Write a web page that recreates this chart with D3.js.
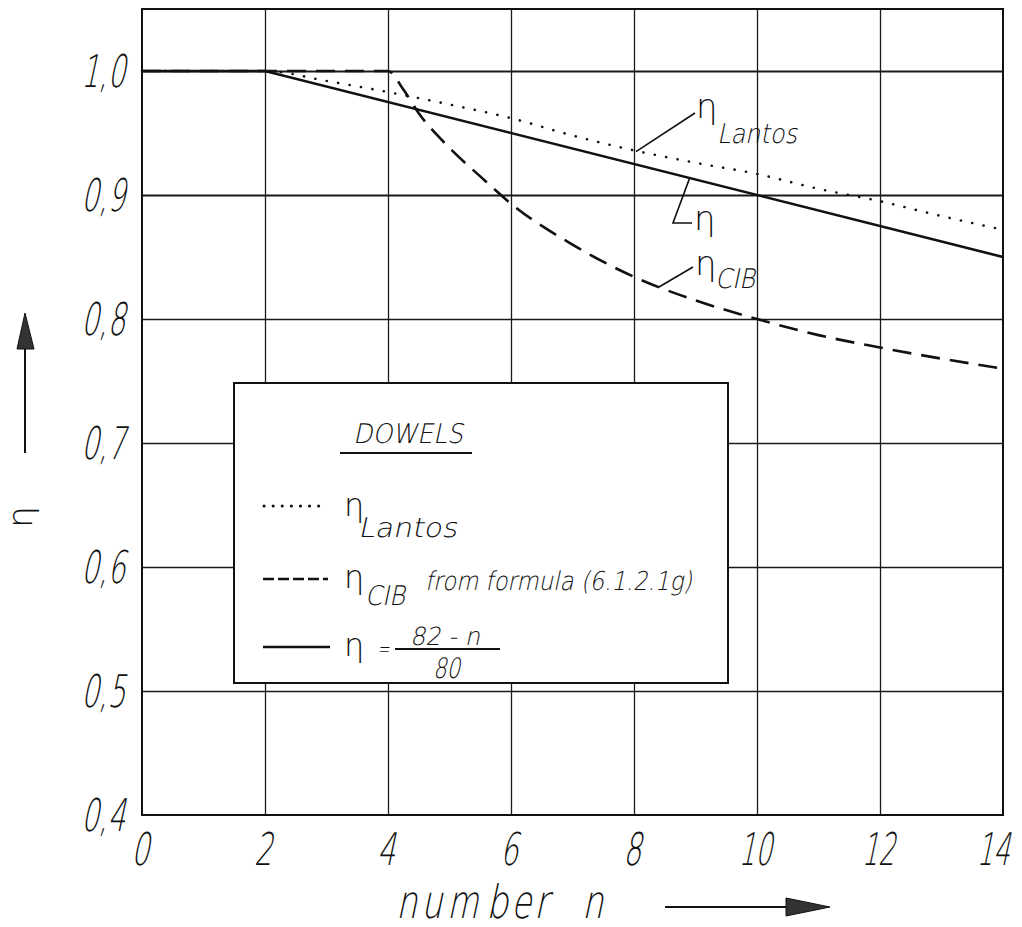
<!DOCTYPE html>
<html>
<head>
<meta charset="utf-8">
<script src="https://cdn.jsdelivr.net/npm/d3@7"></script>
<style>
  html, body { margin: 0; padding: 0; background: #fff; }
  svg { display: block; }
  .lbl { font-family: 'DejaVu Sans', sans-serif; font-weight: 200; fill: #111; }
  .eta { font-family: 'DejaVu Sans', sans-serif; font-weight: 200; fill: #111; }
</style>
</head>
<body>
<svg id="chart" width="1022" height="927"></svg>
<script>
// Efficiency factor η of dowel joints versus the number n of dowels in a row
const xTicks = [0, 2, 4, 6, 8, 10, 12, 14];
const yTicks = [0.4, 0.5, 0.6, 0.7, 0.8, 0.9, 1.0];
const yTickLabels = ["0,4", "0,5", "0,6", "0,7", "0,8", "0,9", "1,0"];

// η_Lantos (dotted)
const lantosN   = [0, 2, 3, 4, 5, 6, 7, 8, 9, 10, 11, 12, 13, 14];
const lantosEta = [1.0, 1.0, 0.992, 0.983, 0.973, 0.962, 0.948, 0.936, 0.926, 0.917, 0.905, 0.895, 0.883, 0.872];

// η_CIB from formula (6.1.2.1g) (dashed)
const cibN   = [0, 2, 4, 4.25, 4.5, 5, 5.5, 6, 7, 8, 9, 10, 11, 12, 13, 14];
const cibEta = [1.0, 1.0, 1.0, 0.985, 0.966, 0.938, 0.915, 0.893, 0.86, 0.834, 0.815, 0.80, 0.787, 0.777, 0.768, 0.76];

// η = (82 - n) / 80 (solid), limited to 1.0
const simpleN   = [0, 2, 14];
const simpleEta = [1.0, 1.0, 0.85];

const svg = d3.select("#chart");
const x = d3.scaleLinear().domain([0, 14]).range([142, 1003]);
const y = d3.scaleLinear().domain([0.4, 1.05]).range([815, 9]);
const plotTop = y(1.05), plotBottom = y(0.4), plotLeft = x(0), plotRight = x(14);

// slanted, narrow stencil-style lettering squeezed to a given width
function label(parent, str, px, py, size, width, anchor = "start") {
  const t = parent.append("text").attr("class", "lbl")
    .attr("transform", `translate(${px},${py}) skewX(-12)`)
    .attr("font-size", size).attr("text-anchor", anchor).text(str);
  if (width) t.attr("textLength", width).attr("lengthAdjust", "spacingAndGlyphs");
  return t;
}
// upright eta symbol
function eta(parent, px, py, size) {
  return parent.append("text").attr("class", "eta")
    .attr("x", px).attr("y", py).attr("font-size", size).text("η");
}

// grid
svg.append("g")
  .attr("transform", `translate(0,${plotBottom})`)
  .call(d3.axisBottom(x).tickValues(xTicks.slice(1, -1)).tickSize(-(plotBottom - plotTop)).tickFormat(""))
  .call(g => g.select(".domain").remove())
  .call(g => g.selectAll("line").attr("stroke", "#1a1a1a").attr("stroke-width", 1.3));
svg.append("g")
  .attr("transform", `translate(${plotLeft},0)`)
  .call(d3.axisLeft(y).tickValues(yTicks.slice(1)).tickSize(-(plotRight - plotLeft)).tickFormat(""))
  .call(g => g.select(".domain").remove())
  .call(g => g.selectAll("line").attr("stroke", "#1a1a1a").attr("stroke-width", d => d >= 0.9 ? 2 : 1.5));

// frame
svg.append("rect")
  .attr("x", plotLeft).attr("y", plotTop).attr("width", plotRight - plotLeft).attr("height", plotBottom - plotTop)
  .attr("fill", "none").attr("stroke", "#111").attr("stroke-width", 2);

// tick labels
const yl = svg.append("g");
yTicks.forEach((d, i) => label(yl, yTickLabels[i], 125, y(d) + 16, 45, 44, "end"));
const xl = svg.append("g");
xTicks.forEach(d => label(xl, String(d), x(d) - (d >= 14 ? 10 : 2), 865, 45, d >= 10 ? 33 : 18, "middle"));

// curves
const line = (xs, ys, curve) => d3.line().x(d => x(xs[d])).y(d => y(ys[d])).curve(curve)(d3.range(xs.length));
svg.append("path").attr("d", line(simpleN, simpleEta, d3.curveLinear))
  .attr("fill", "none").attr("stroke", "#111").attr("stroke-width", 2.6);
svg.append("path").attr("d", line(lantosN, lantosEta, d3.curveMonotoneX))
  .attr("fill", "none").attr("stroke", "#111").attr("stroke-width", 2.6)
  .attr("stroke-dasharray", "0.1 11.5").attr("stroke-linecap", "round");
svg.append("path").attr("d", line(cibN, cibEta, d3.curveMonotoneX))
  .attr("fill", "none").attr("stroke", "#111").attr("stroke-width", 2.6)
  .attr("stroke-dasharray", "19 10");

// curve annotations
const ann = svg.append("g").attr("stroke", "#111").attr("stroke-width", 1.6).attr("fill", "none");
ann.append("path").attr("d", `M${x(8) + 2},${y(0.935)} L695,113`);
ann.append("path").attr("d", `M${x(8.9)},${y(0.913)} L673,223 L692,223`);
ann.append("path").attr("d", `M693,267 L659,287`);
const at = svg.append("g");
eta(at, 696, 118, 34);
label(at, "Lantos", 717, 143, 27, 80);
eta(at, 694, 230, 34);
eta(at, 695, 275, 34);
label(at, "CIB", 715, 288, 27, 40);

// legend
const lg = svg.append("g");
lg.append("rect").attr("x", 234).attr("y", 383).attr("width", 494).attr("height", 300)
  .attr("fill", "#fff").attr("stroke", "#111").attr("stroke-width", 2);
label(lg, "DOWELS", 353, 443, 27, 110);
lg.append("line").attr("x1", 340).attr("x2", 472).attr("y1", 453).attr("y2", 453).attr("stroke", "#111").attr("stroke-width", 2);

lg.append("line").attr("x1", 264).attr("x2", 326).attr("y1", 506).attr("y2", 506)
  .attr("stroke", "#111").attr("stroke-width", 3).attr("stroke-dasharray", "0.1 9").attr("stroke-linecap", "round");
eta(lg, 344, 516, 32);
label(lg, "Lantos", 358, 537, 27, 99);

lg.append("line").attr("x1", 263).attr("x2", 328).attr("y1", 579).attr("y2", 579)
  .attr("stroke", "#111").attr("stroke-width", 2.6).attr("stroke-dasharray", "11 4");
eta(lg, 344, 588, 32);
label(lg, "CIB", 365, 605, 27, 40);
label(lg, "from  formula (6.1.2.1g)", 425, 590, 26, 267);

lg.append("line").attr("x1", 263).attr("x2", 330).attr("y1", 647).attr("y2", 647)
  .attr("stroke", "#111").attr("stroke-width", 2.6);
eta(lg, 344, 656, 32);
label(lg, "=", 377, 657, 24, 12);
lg.append("line").attr("x1", 395).attr("x2", 500).attr("y1", 649).attr("y2", 649).attr("stroke", "#111").attr("stroke-width", 1.8);
label(lg, "82 - n", 410, 645, 25, 70);
label(lg, "80", 433, 678, 28, 27);

// x-axis title: widely spaced letters, each placed on its own
const titleLetters = ["n", "u", "m", "b", "e", "r", "n"];
const titleX = [396, 421, 447, 486, 511, 534, 582];
const titleW = [21, 21, 31, 22, 20, 14, 21];
const tt = svg.append("g");
titleLetters.forEach((c, i) => label(tt, c, titleX[i], 918, 46, titleW[i]));
svg.append("line").attr("x1", 665).attr("x2", 792).attr("y1", 907).attr("y2", 907).attr("stroke", "#111").attr("stroke-width", 2);
svg.append("path").attr("d", "M786,898 L830,907 L786,916 Z").attr("fill", "#333").attr("stroke", "#111").attr("stroke-width", 1);

// y-axis title with arrow
svg.append("line").attr("x1", 25).attr("x2", 25).attr("y1", 453).attr("y2", 345).attr("stroke", "#111").attr("stroke-width", 2);
svg.append("path").attr("d", "M17,349 L25,313 L34,349 Z").attr("fill", "#333").attr("stroke", "#111").attr("stroke-width", 1);
svg.append("text").attr("class", "eta").attr("transform", "translate(32,517) rotate(-90)")
  .attr("text-anchor", "middle").attr("font-size", 34).text("η");
</script>
</body>
</html>
